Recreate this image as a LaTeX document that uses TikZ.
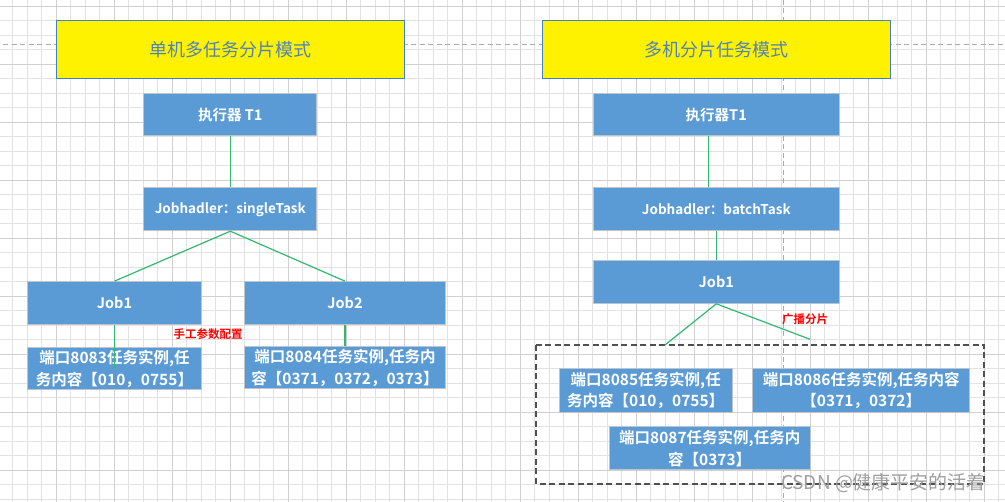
\documentclass[tikz,border=0pt]{standalone}
\usepackage{fontspec}
\setmainfont{Noto Sans CJK SC}[BoldFont={Noto Sans CJK SC Bold}]
\definecolor{gridminor}{RGB}{226,226,226}
\definecolor{gridmajor}{RGB}{208,208,208}
\definecolor{boxfill}{RGB}{91,155,213}
\definecolor{boxedge}{RGB}{190,196,204}
\definecolor{titleedge}{RGB}{68,128,200}
\definecolor{titletext}{RGB}{80,130,185}
\definecolor{linkgreen}{RGB}{50,184,110}
\definecolor{guidegray}{RGB}{170,170,170}
\definecolor{dashgray}{RGB}{80,80,80}
\tikzset{
  titlebox/.style={draw=titleedge, line width=0.9pt, fill=yellow, inner sep=0pt,
    text=titletext, font=\fontsize{18}{22}\selectfont},
  bluebox/.style={draw=boxedge, line width=1pt, fill=boxfill, inner sep=0pt,
    text=white, font=\bfseries\fontsize{14.5}{18}\selectfont},
  portbox/.style={bluebox, align=center, font=\bfseries\fontsize{15.5}{21.7}\selectfont},
  jhfont/.style={font=\bfseries\fontsize{13.5}{16}\selectfont},
  redlabel/.style={text=red, font=\bfseries\fontsize{11.5}{14}\selectfont, inner sep=0pt},
  link/.style={draw=linkgreen, line width=1.2pt},
}
\begin{document}
\begin{tikzpicture}[x=1pt,y=-1pt]
\useasboundingbox (0,0) rectangle (1005,502);
\fill[white] (0,0) rectangle (1005,502);
% grid
\foreach \k in {0,...,68} {
  \pgfmathsetmacro\xx{12.8+14.5*\k}
  \draw[gridminor, line width=0.8pt] (\xx,0) -- (\xx,502);
}
\foreach \k in {0,...,34} {
  \pgfmathsetmacro\yy{6+14.5*\k}
  \draw[gridminor, line width=0.8pt] (0,\yy) -- (1005,\yy);
}
\foreach \k in {0,...,17} {
  \pgfmathsetmacro\xx{56.3+58*\k}
  \draw[gridmajor, line width=0.9pt] (\xx,0) -- (\xx,502);
}
\foreach \k in {0,...,8} {
  \pgfmathsetmacro\yy{6+58*\k}
  \draw[gridmajor, line width=0.9pt] (0,\yy) -- (1005,\yy);
}
% guide dashed lines
\draw[guidegray, line width=1pt, dash pattern=on 5pt off 3.5pt] (3,45) -- (1005,45);
\draw[guidegray, line width=1pt, dash pattern=on 5pt off 3.5pt] (783,0) -- (783,502);

% ---------- left diagram ----------
\node[titlebox, minimum width=347.6pt, minimum height=57.6pt] (titleL) at (230.5,49.5) {单机多任务分片模式};
\node[bluebox, minimum width=172.7pt, minimum height=42pt] (t1L) at (230.3,115) {执行器 T1};
\node[bluebox, jhfont, minimum width=172.7pt, minimum height=43pt] (jhL) at (230.3,209.2) {Jobhadler：singleTask};
\node[bluebox, minimum width=173.6pt, minimum height=43.3pt] (job1L) at (114.5,303.3) {Job1};
\node[bluebox, minimum width=201pt, minimum height=43.3pt] (job2L) at (345,303.3) {Job2};
\node[portbox, minimum width=173.6pt, minimum height=42.3pt] (p1) at (114.5,368.8) {端口8083任务实例,任\\务内容【010，0755】};
\node[portbox, minimum width=201pt, minimum height=42.3pt] (p2) at (345,367.8) {端口8084任务实例,任务内\\容【0371，0372，0373】};
\node[redlabel] (lblL) at (208,334) {手工参数配置};

\draw[link] (t1L.south) -- (jhL.north);
\draw[link] (jhL.south) -- (job1L.north);
\draw[link] (jhL.south) -- (job2L.north);
\draw[link] (job1L.south) -- (p1.center);
\draw[link] (job2L.south) -- (p2.north);

% ---------- right diagram ----------
\node[titlebox, minimum width=348pt, minimum height=57.6pt] (titleR) at (716.3,49.5) {多机分片任务模式};
\node[bluebox, minimum width=246pt, minimum height=42pt] (t1R) at (716.3,115) {执行器T1};
\node[bluebox, jhfont, minimum width=246pt, minimum height=43pt] (jhR) at (716.3,209.2) {Jobhadler：batchTask};
\node[bluebox, minimum width=246pt, minimum height=42.6pt] (job1R) at (716.3,282) {Job1};
\draw[dashgray, line width=1.3pt, dash pattern=on 6pt off 3.5pt] (536,345) rectangle (984,484);
\node[portbox, minimum width=173.3pt, minimum height=44pt] (p3) at (645.7,390.3) {端口8085任务实例,任\\务内容【010，0755】};
\node[portbox, minimum width=217.3pt, minimum height=44pt] (p4) at (861.3,390.3) {端口8086任务实例,任务内容\\【0371，0372】};
\node[portbox, minimum width=200.7pt, minimum height=43.3pt] (p5) at (709.7,448.3) {端口8087任务实例,任务内\\容【0373】};
\node[redlabel] (lblR) at (805,319) {广播分片};
\coordinate (endA) at (665,345);
\coordinate (endB) at (810,339.3);

\draw[link] ([xshift=-8pt]t1R.south) -- ([xshift=-8pt]jhR.north);
\draw[link] (jhR.south) -- (job1R.north);
\draw[link] (job1R.south) -- (endA);
\draw[link] (job1R.south) -- (endB);

% watermark
\node[text=gray!75, font=\fontsize{19}{22}\selectfont, inner sep=0pt] (wm) at (883.5,483) {CSDN @健康平安的活着};
\end{tikzpicture}
\end{document}
